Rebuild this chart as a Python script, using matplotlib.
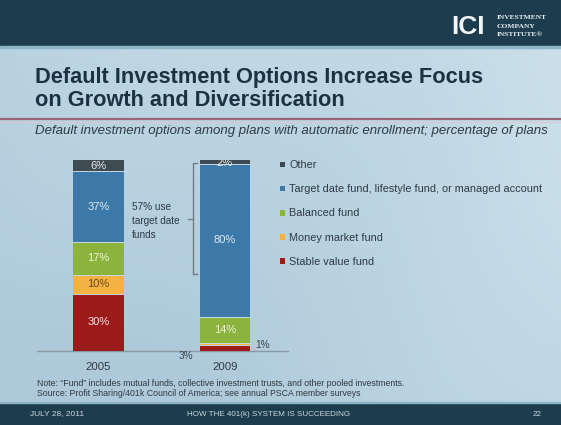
import matplotlib
matplotlib.use("Agg")
import matplotlib.pyplot as plt
import numpy as np
from matplotlib.patches import Rectangle
from matplotlib.lines import Line2D

plt.rcParams['font.family'] = ['Liberation Sans', 'DejaVu Sans']

# ---------------- data ----------------
years = ['2005', '2009']
series_names = ['Stable value fund', 'Money market fund', 'Balanced fund',
                'Target date fund, lifestyle fund, or managed account', 'Other']
stable = [30, 3]
money = [10, 1]
balanced = [17, 14]
target = [37, 80]
other = [6, 2]
series_values = [stable, money, balanced, target, other]
colors = ['#9b1b1b', '#f3b241', '#8cb43c', '#3c79a8', '#3f4b52']
label_colors = ['#f3e4e4', '#6a4a1a', '#eef4dc', '#dce9f3', '#e8ecee']

title = "Default Investment Options Increase Focus\non Growth and Diversification"
subtitle = "Default investment options among plans with automatic enrollment; percentage of plans"
note1 = "Note: \u201cFund\u201d includes mutual funds, collective investment trusts, and other pooled investments."
note2 = "Source: Profit Sharing/401k Council of America; see annual PSCA member surveys"

W, H = 561, 425
fig = plt.figure(figsize=(W / 100, H / 100), dpi=100)

# ---------------- background ----------------
bg = fig.add_axes([0, 0, 1, 1], zorder=-10)
bg.set_axis_off()
yy, xx = np.mgrid[0:1:200j, 0:1:300j]
c1 = np.array([0xae, 0xca, 0xda]) / 255.0
c2 = np.array([0xd2, 0xe5, 0xee]) / 255.0
t = np.clip(0.55 * xx + 0.45 * (1 - yy) - 0.15 + 0.08 * np.sin(6 * xx + 3 * yy), 0, 1)
img = c1[None, None, :] * (1 - t[..., None]) + c2[None, None, :] * t[..., None]
bg.imshow(img, extent=[0, 1, 0, 1], aspect='auto', origin='upper')
bg.set_xlim(0, 1)
bg.set_ylim(0, 1)

def fy(py):
    return 1 - py / H

def fx(px):
    return px / W

# top band
bg.add_patch(Rectangle((0, fy(46)), 1, 46 / H, color='#1d3d4f', zorder=2))
bg.add_patch(Rectangle((0, fy(48)), 1, 2 / H, color='#8fb3c6', zorder=2))
# bottom band
bg.add_patch(Rectangle((0, 0), 1, 22 / H, color='#1d3d4f', zorder=2))
bg.add_patch(Rectangle((0, 22 / H), 1, 1.5 / H, color='#8fb3c6', zorder=2))
# rule under title
bg.add_line(Line2D([0, 1], [fy(119), fy(119)], color='#9a6478', lw=1.6, zorder=3))
bg.add_line(Line2D([0, 1], [fy(121.5), fy(121.5)], color='#d9c9d3', lw=0.8, zorder=3))

# logo
fig.text(fx(451), fy(27), 'ICI', color='#f2f5f7', fontsize=19, fontweight='bold',
         va='center', ha='left', family=['Liberation Sans'])
for i, w in enumerate(['INVESTMENT', 'COMPANY', 'INSTITUTE\u00ae']):
    fig.text(fx(497), fy(17.5 + 8.5 * i), w, color='#e8eef2', fontsize=5.4,
             fontweight='bold', va='center', ha='left', family=['Liberation Serif'])

# title & subtitle
fig.text(fx(35), fy(89), title, color='#1c3242', fontsize=15.7, fontweight='bold',
         va='center', ha='left', linespacing=1.12)
fig.text(fx(35), fy(131), subtitle, color='#2e3a42', fontsize=9.5, style='italic',
         va='center', ha='left')

# notes and footer
fig.text(fx(37), fy(384), note1, color='#2e3a42', fontsize=6.3, va='center', ha='left')
fig.text(fx(37), fy(394), note2, color='#2e3a42', fontsize=6.3, va='center', ha='left')
fig.text(fx(30), fy(414), 'JULY 28, 2011', color='#c9d6de', fontsize=6, va='center', ha='left')
fig.text(fx(269), fy(414), 'HOW THE 401(k) SYSTEM IS SUCCEEDING', color='#c9d6de',
         fontsize=5.8, va='center', ha='center')
fig.text(fx(537), fy(414), '22', color='#c9d6de', fontsize=5.8, va='center', ha='center')

# ---------------- chart ----------------
left_px, right_px, base_px, top_px = 37, 288, 351, 160
ax = fig.add_axes([fx(left_px), fy(base_px), (right_px - left_px) / W,
                   (base_px - top_px) / H])
ax.patch.set_alpha(0)
x = np.arange(len(years))
width = 0.403
ax.set_xlim(-0.486, 1.498)
ax.set_ylim(0, 100)

bottoms = np.zeros(len(years))
bars = []
for vals, col, name in zip(series_values, colors, series_names):
    b = ax.bar(x, vals, width, bottom=bottoms, color=col, label=name,
               edgecolor='none', zorder=3)
    bars.append(b)
    bottoms = bottoms + np.array(vals)

# thin separators between segments
bottoms = np.zeros(len(years))
for vals in series_values[:-1]:
    bottoms = bottoms + np.array(vals)
    for xi, btm in zip(x, bottoms):
        ax.plot([xi - width / 2, xi + width / 2], [btm, btm], color='#c8d8e0',
                lw=0.7, zorder=4)

# segment labels
bottoms = np.zeros(len(years))
for si, (vals, lc) in enumerate(zip(series_values, label_colors)):
    for xi, v, btm in zip(x, vals, bottoms):
        txt = f'{v}%'
        if v >= 5:
            ax.text(xi, btm + v / 2, txt, ha='center', va='center', color=lc,
                    fontsize=8, zorder=5)
        elif si == 4:
            ax.text(xi, btm + v / 2 - 0.8, txt, ha='center', va='center', color=lc,
                    fontsize=8, zorder=5, clip_on=True)
        elif si == 0:
            ax.text(xi - width / 2 - 0.05, btm - 2.5, txt, ha='right', va='center',
                    color='#3a444a', fontsize=7.2, zorder=5, clip_on=False)
        elif si == 1:
            ax.text(xi + width / 2 + 0.04, btm + v - 1.0, txt, ha='left', va='center',
                    color='#3a444a', fontsize=7.2, zorder=5, clip_on=False)
    bottoms = bottoms + np.array(vals)

for s in ['top', 'right', 'left']:
    ax.spines[s].set_visible(False)
ax.spines['bottom'].set_color('#8a9aa4')
ax.spines['bottom'].set_linewidth(1.0)
ax.set_yticks([])
ax.set_xticks(x)
ax.set_xticklabels(years, fontsize=8.2, color='#2e3a42')
ax.tick_params(axis='x', length=0, pad=8)

# bracket
bx = 0.747
ytop, ybot = 98.4, 40.3
ax.plot([bx + 0.03, bx, bx, bx + 0.03], [ytop, ytop, ybot, ybot], color='#6f7d86',
        lw=1.0, zorder=4, clip_on=False)
ymid = (ytop + ybot) / 2
ax.plot([bx - 0.04, bx], [ymid, ymid], color='#6f7d86', lw=1.0, zorder=4)
ax.text(0.265, 77.8, '57% use\ntarget date\nfunds', ha='left', va='top',
        color='#2e3a42', fontsize=7.2, linespacing=1.45)

# legend
handles = [b.patches[0] for b in bars][::-1]
labels = series_names[::-1]
leg = fig.legend(handles, labels, loc='upper left',
                 bbox_to_anchor=(fx(276), fy(156)), frameon=False,
                 fontsize=7.8, handlelength=0.45, handleheight=0.45,
                 handletextpad=0.35, labelspacing=1.3, borderaxespad=0,
                 labelcolor='#2e3a42')

fig.savefig('out.png', dpi=100)
